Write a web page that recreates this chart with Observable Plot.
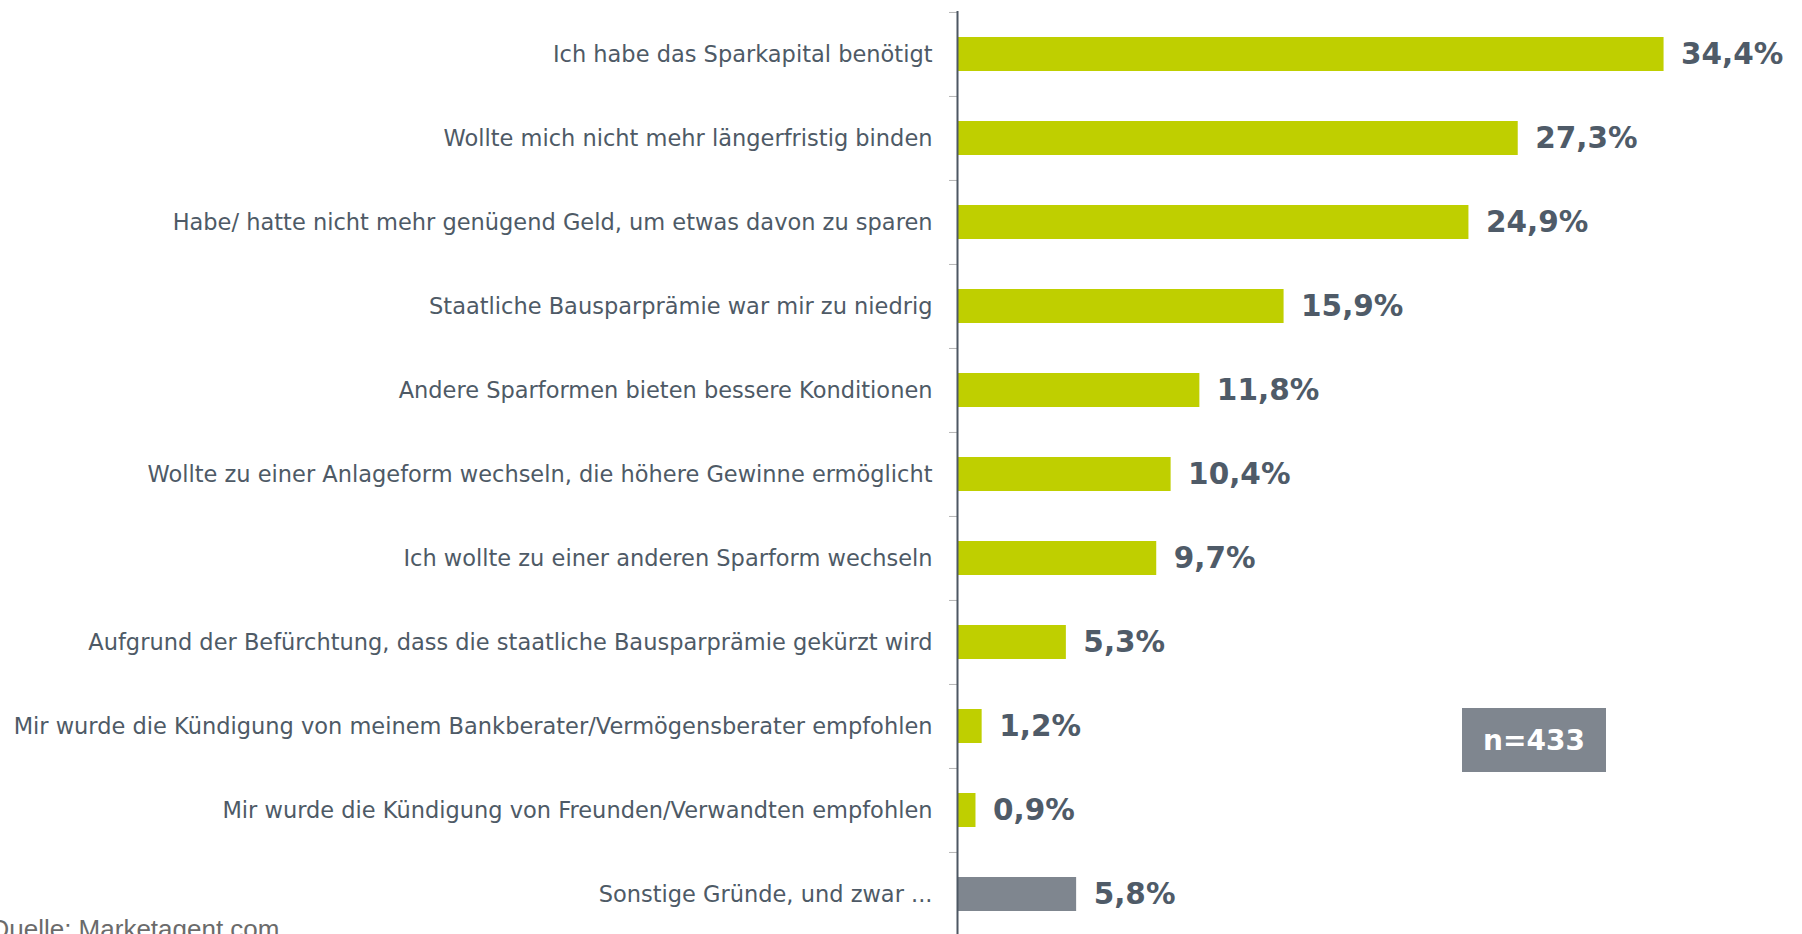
<!DOCTYPE html>
<html><head><meta charset="utf-8">
<script src="https://cdn.jsdelivr.net/npm/d3@7"></script>
<script src="https://cdn.jsdelivr.net/npm/@observablehq/plot@0.6"></script>
<style>
html,body{margin:0;padding:0;background:#fff;overflow:hidden;}
#wrap{position:relative;width:1802px;height:934px;overflow:hidden;}
#chart svg{display:block}
#n{position:absolute;left:1462px;top:708px;width:144px;height:64px;background:#7f868f;color:#fff;font:bold 28px "DejaVu Sans";display:flex;align-items:center;justify-content:center;}
#src{position:absolute;left:-11px;top:916px;font:26px "Liberation Sans";color:#6b6b6b;line-height:1;white-space:nowrap}
</style></head><body>
<div id="wrap"><div id="chart"></div><div id="n"></div><div id="src"></div></div>
<script>
const categories = [
  "Ich habe das Sparkapital benötigt",
  "Wollte mich nicht mehr längerfristig binden",
  "Habe/ hatte nicht mehr genügend Geld, um etwas davon zu sparen",
  "Staatliche Bausparprämie war mir zu niedrig",
  "Andere Sparformen bieten bessere Konditionen",
  "Wollte zu einer Anlageform wechseln, die höhere Gewinne ermöglicht",
  "Ich wollte zu einer anderen Sparform wechseln",
  "Aufgrund der Befürchtung, dass die staatliche Bausparprämie gekürzt wird",
  "Mir wurde die Kündigung von meinem Bankberater/Vermögensberater empfohlen",
  "Mir wurde die Kündigung von Freunden/Verwandten empfohlen",
  "Sonstige Gründe, und zwar ..."
];
const values = [34.4, 27.3, 24.9, 15.9, 11.8, 10.4, 9.7, 5.3, 1.2, 0.9, 5.8];
const groups = ["main","main","main","main","main","main","main","main","main","main","other"];
const sampleLabel = "n=433";
const sourceLabel = "Quelle: Marketagent.com";

document.getElementById("n").textContent = sampleLabel;
document.getElementById("src").textContent = sourceLabel;

const data = categories.map((c, i) => ({category: c, value: values[i], group: groups[i]}));
const W = 1802, H = 936, mt = 11, mb = 0, ml = 957;
const step = (H - mt - mb) / categories.length;
const fmt = v => v.toFixed(1).replace(".", ",") + "%";

const chart = Plot.plot({
  width: W, height: H,
  marginTop: mt, marginBottom: mb, marginLeft: ml, marginRight: 0,
  style: {background: "transparent", overflow: "visible"},
  x: {domain: [0, 41.14], axis: null},
  y: {domain: categories, paddingInner: 0.6, paddingOuter: 0.3, label: null},
  color: {domain: ["main", "other"], range: ["#bfcf00", "#7f868f"]},
  marks: [
    Plot.barX(data, {x: "value", y: "category", fill: "group"}),
    Plot.axisY({tickSize: 8, dy: -step / 2, tickFormat: () => "", stroke: "#b5b5b5", label: null}),
    Plot.axisY({tickSize: 0, tickPadding: 25, fontSize: 22.5, fill: "#4e5a66", fontFamily: "DejaVu Sans", label: null}),
    Plot.ruleX([0], {stroke: "#4d5763", strokeWidth: 2}),
    Plot.text(data, {x: "value", y: "category", text: d => fmt(d.value), dx: 17, textAnchor: "start",
      fontWeight: "bold", fontSize: 29.5, fill: "#4f5b68", fontFamily: "DejaVu Sans"})
  ]
});
document.getElementById("chart").appendChild(chart);
</script>
</body></html>
